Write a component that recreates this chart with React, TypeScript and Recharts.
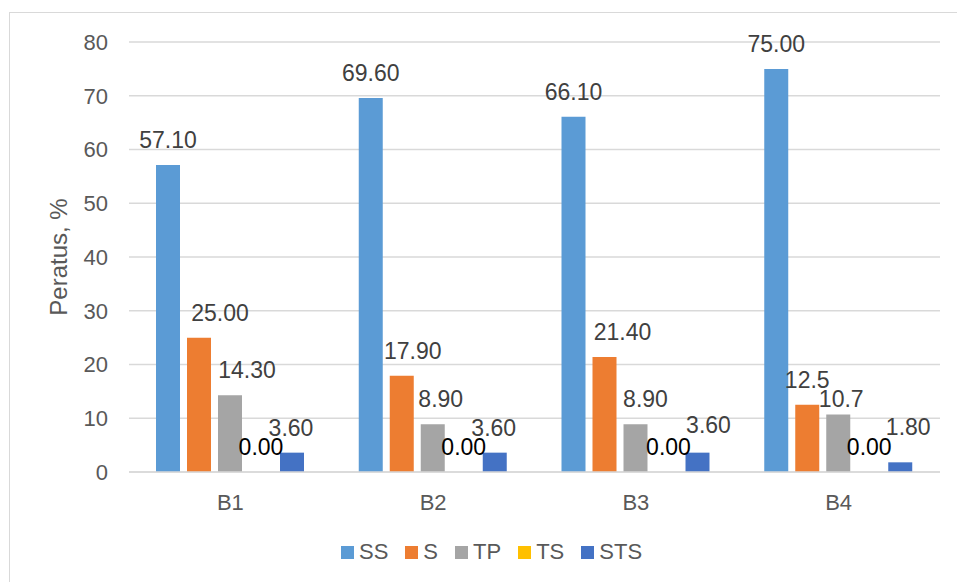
import React from 'react';
import { BarChart, Bar, XAxis, YAxis, CartesianGrid } from 'recharts';

const categories = ['B1', 'B2', 'B3', 'B4'];
const ssValues = [57.1, 69.6, 66.1, 75.0];
const sValues = [25.0, 17.9, 21.4, 12.5];
const tpValues = [14.3, 8.9, 8.9, 10.7];
const tsValues = [0, 0, 0, 0];
const stsValues = [3.6, 3.6, 3.6, 1.8];

const ssLabels = ['57.10', '69.60', '66.10', '75.00'];
const sLabels = ['25.00', '17.90', '21.40', '12.5'];
const tpLabels = ['14.30', '8.90', '8.90', '10.7'];
const tsLabels = ['0.00', '0.00', '0.00', '0.00'];
const stsLabels = ['3.60', '3.60', '3.60', '1.80'];

const yTicks = [0, 10, 20, 30, 40, 50, 60, 70, 80];

// label nudges (dx, dy) mimicking manually moved data labels
const ssNudge = [[0, 0], [0, 0], [0, 0], [0, 0]];
const sNudge = [[21, 0], [11, 0], [18, 0], [0, 0]];
const tpNudge = [[17, 0], [8, 0], [10, 0], [3, 10]];
const tsNudge = [[0, 0], [0, 0], [2, 0], [0, 0]];
const stsNudge = [[-1, 0], [-1, 0], [11, -3], [8, -10]];

const data = categories.map((c, i) => ({
  name: c,
  SS: ssValues[i],
  S: sValues[i],
  TP: tpValues[i],
  TS: tsValues[i],
  STS: stsValues[i],
}));

const FONT = '"Liberation Sans", Arial, sans-serif';
const BAR_SIZE = 24;
const BAR_GAP = 7;

const series = [
  { key: 'SS', color: '#5B9BD5', labels: ssLabels, nudge: ssNudge, labelColor: '#404040' },
  { key: 'S', color: '#ED7D31', labels: sLabels, nudge: sNudge, labelColor: '#404040' },
  { key: 'TP', color: '#A5A5A5', labels: tpLabels, nudge: tpNudge, labelColor: '#404040' },
  { key: 'TS', color: '#FFC000', labels: tsLabels, nudge: tsNudge, labelColor: '#000000' },
  { key: 'STS', color: '#4472C4', labels: stsLabels, nudge: stsNudge, labelColor: '#404040' },
];

const labelText = (key: string, x: number, y: number, text: string, color: string) => (
  <text key={key} x={x} y={y} textAnchor="middle" fill={color} fontSize={23} fontFamily={FONT}>
    {text}
  </text>
);

const makeLabel = (texts: string[], nudges: number[][], color: string) => (props: any) => {
  const { x, y, width, index } = props;
  const [dx, dy] = nudges[index] || [0, 0];
  return labelText(`l-${index}`, x + width / 2 + dx, y - 17 + dy, texts[index], color);
};

// STS labels also place the zero-height TS labels one bar slot to the left
const stsLabel = (props: any) => {
  const { x, y, width, height, index } = props;
  const [dx, dy] = stsNudge[index] || [0, 0];
  const [tdx, tdy] = tsNudge[index] || [0, 0];
  const base = y + height;
  return (
    <g key={`sts-${index}`}>
      {labelText(`ts-${index}`, x + width / 2 - (BAR_SIZE + BAR_GAP) + tdx, base - 17 + tdy, tsLabels[index], '#000000')}
      {labelText(`st-${index}`, x + width / 2 + dx, y - 17 + dy, stsLabels[index], '#404040')}
    </g>
  );
};

export default function App() {
  return (
    <div style={{ position: 'fixed', left: 0, top: 0, width: 957, height: 582, overflow: 'hidden', background: '#fff' }}>
      <div
        style={{
          position: 'absolute',
          left: 9,
          top: 12,
          width: 1000,
          height: 700,
          border: '1.5px solid #D9D9D9',
          boxSizing: 'border-box',
        }}
      />
      <div
        style={{
          position: 'absolute',
          left: 59,
          top: 257,
          transform: 'translate(-50%, -50%) rotate(-90deg)',
          fontFamily: FONT,
          fontSize: 24,
          color: '#595959',
          whiteSpace: 'nowrap',
          lineHeight: '24px',
        }}
      >
        Peratus, %
      </div>
      <div style={{ position: 'absolute', left: 0, top: 0 }}>
        <BarChart
          width={957}
          height={582}
          data={data}
          margin={{ top: 42, right: 17, left: 0, bottom: 0 }}
          barSize={BAR_SIZE}
          barGap={BAR_GAP}
        >
          <CartesianGrid vertical={false} stroke="#D9D9D9" strokeWidth={1.3} />
          <XAxis
            dataKey="name"
            tickLine={false}
            axisLine={{ stroke: '#D9D9D9', strokeWidth: 1.3 }}
            tickSize={0}
            tickMargin={22}
            tick={{ fill: '#595959', fontSize: 22, fontFamily: FONT }}
            interval={0}
            height={110}
          />
          <YAxis
            width={129}
            domain={[0, 80]}
            ticks={yTicks}
            tickLine={false}
            axisLine={false}
            tickSize={0}
            tickMargin={21}
            tick={{ fill: '#595959', fontSize: 22, fontFamily: FONT }}
          />
          {series.map((s) => (
            <Bar
              key={s.key}
              dataKey={s.key}
              fill={s.color}
              isAnimationActive={false}
              label={
                s.key === 'TS'
                  ? false
                  : s.key === 'STS'
                  ? stsLabel
                  : makeLabel(s.labels, s.nudge, s.labelColor)
              }
            />
          ))}
        </BarChart>
      </div>
      <div
        style={{
          position: 'absolute',
          left: 341,
          top: 541,
          display: 'flex',
          alignItems: 'center',
          fontFamily: FONT,
          fontSize: 22,
          color: '#595959',
          height: 22,
        }}
      >
        {series.map((s) => (
          <div key={s.key} style={{ display: 'flex', alignItems: 'center', marginRight: 17 }}>
            <div style={{ width: 13, height: 13, background: s.color, marginRight: 5 }} />
            <span style={{ lineHeight: '22px' }}>{s.key}</span>
          </div>
        ))}
      </div>
    </div>
  );
}
